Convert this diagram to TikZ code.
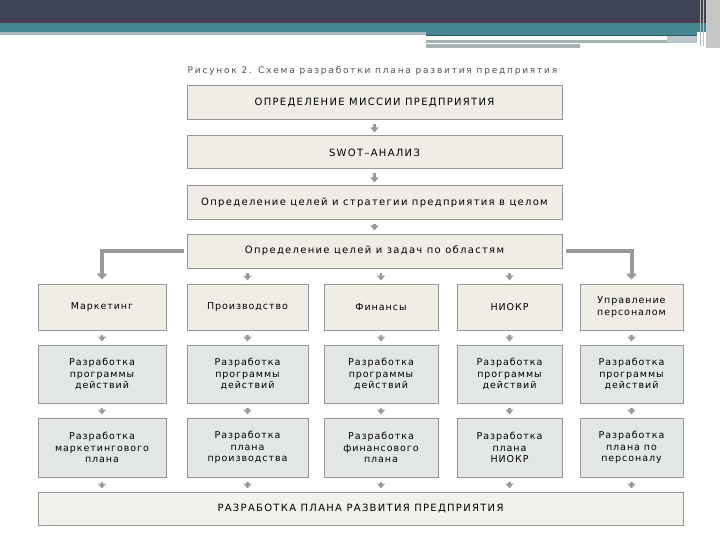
\documentclass[tikz,border=0pt]{standalone}
\usepackage{fontspec}
\setmainfont{DejaVu Sans}
\newfontfamily\fontA{DejaVu Sans}[LetterSpace=13]
\newfontfamily\fontB{DejaVu Sans}[LetterSpace=10]
\newfontfamily\fontC{DejaVu Sans}[LetterSpace=20]
\usetikzlibrary{arrows.meta}
\definecolor{hdark}{HTML}{3F4557}
\definecolor{hpurp}{HTML}{483F55}
\definecolor{hteal}{HTML}{458590}
\definecolor{hlight}{HTML}{A8B8C0}
\definecolor{hgray}{HTML}{A6B2B2}
\definecolor{beige}{HTML}{EFEDE6}
\definecolor{greenish}{HTML}{E3E7E3}
\definecolor{bottomfill}{HTML}{F2F0EA}
\definecolor{bordergray}{HTML}{969696}
\definecolor{arrgray}{HTML}{9A9A9A}
\definecolor{txt}{HTML}{000000}
\definecolor{captxt}{HTML}{505050}
\begin{document}
\begin{tikzpicture}[x=1pt,y=-1pt,
  box/.style={draw=bordergray, line width=1pt, fill=beige, inner sep=0pt, align=center,
    text=txt, font=\fontA\fontsize{10}{12}\selectfont},
  rbox/.style={box, font=\fontB\fontsize{9.5}{11.7}\selectfont},
  gbox/.style={rbox, fill=greenish},
  arr/.style={draw=arrgray, line width=2.5pt, -{Triangle[width=8pt,length=5pt]}, shorten <=4pt, shorten >=3pt},
  elbow/.style={draw=arrgray, line width=4pt, -{Triangle[width=11pt,length=6pt]}, shorten <=3pt, shorten >=4pt}]
\useasboundingbox (0,0) rectangle (720,540);
\fill[white] (0,0) rectangle (720,540);
% header
\fill[hdark] (0,0) rectangle (720,18);
\fill[hpurp] (0,18) rectangle (720,23);
\fill[hteal] (0,23) rectangle (720,32);
\fill[hlight] (0,32) rectangle (426,35);
\fill[hteal] (426,32) rectangle (697,35);
\fill[hteal!70!black] (426,35) rectangle (697,36);
\fill[hgray] (426,40) rectangle (667,43);
\fill[hgray] (426,44) rectangle (580,48);
\fill[hlight!80!white] (667,36) rectangle (697,43);
\fill[gray!45] (706,0) rectangle (720,48);
\draw[gray!60, line width=1pt] (700,0) -- (700,46);
\draw[gray!50, line width=1pt] (703,0) -- (703,46);
% caption
\node[text=captxt, font=\fontC\fontsize{9}{10}\selectfont, inner sep=0pt] (cap) at (372.5,71) {Рисунок 2. Схема разработки плана развития предприятия};
% main chain
\node[box, minimum width=375pt, minimum height=34pt] (b1) at (374.5,103) {ОПРЕДЕЛЕНИЕ МИССИИ ПРЕДПРИЯТИЯ};
\node[box, minimum width=375pt, minimum height=33pt] (b2) at (374.5,152.5) {SWOT–АНАЛИЗ};
\node[box, minimum width=375pt, minimum height=34pt] (b3) at (374.5,203) {Определение целей и стратегии предприятия в целом};
\node[box, minimum width=375pt, minimum height=34pt] (b4) at (374.5,251) {Определение целей и задач по областям};
% row 1
\node[rbox, minimum width=128pt, minimum height=46pt] (a1) at (102,307) {Маркетинг};
\node[rbox, minimum width=121pt, minimum height=46pt] (a2) at (247.5,307) {Производство};
\node[rbox, minimum width=114pt, minimum height=46pt] (a3) at (381,307) {Финансы};
\node[rbox, minimum width=105pt, minimum height=46pt] (a4) at (509.5,307) {НИОКР};
\node[rbox, minimum width=103pt, minimum height=46pt] (a5) at (631.5,307) {Управление\\персоналом};
% row 2
\node[gbox, minimum width=128pt, minimum height=58pt] (p1) at (102,374) {Разработка\\программы\\действий};
\node[gbox, minimum width=121pt, minimum height=58pt] (p2) at (247.5,374) {Разработка\\программы\\действий};
\node[gbox, minimum width=114pt, minimum height=58pt] (p3) at (381,374) {Разработка\\программы\\действий};
\node[gbox, minimum width=105pt, minimum height=58pt] (p4) at (509.5,374) {Разработка\\программы\\действий};
\node[gbox, minimum width=103pt, minimum height=58pt] (p5) at (631.5,374) {Разработка\\программы\\действий};
% row 3
\node[gbox, minimum width=128pt, minimum height=59pt] (q1) at (102,447.5) {Разработка\\маркетингового\\плана};
\node[gbox, minimum width=121pt, minimum height=59pt] (q2) at (247.5,447.5) {Разработка\\плана\\производства};
\node[gbox, minimum width=114pt, minimum height=59pt] (q3) at (381,447.5) {Разработка\\финансового\\плана};
\node[gbox, minimum width=105pt, minimum height=59pt] (q4) at (509.5,447.5) {Разработка\\плана\\НИОКР};
\node[gbox, minimum width=103pt, minimum height=59pt] (q5) at (631.5,447.5) {Разработка\\плана по\\персоналу};
% bottom
\node[box, fill=bottomfill, minimum width=645pt, minimum height=33pt] (bb) at (360.5,508.5) {РАЗРАБОТКА ПЛАНА РАЗВИТИЯ ПРЕДПРИЯТИЯ};
% arrows
\draw[arr] (b1) -- (b2);
\draw[arr] (b2) -- (b3);
\draw[arr] (b3) -- (b4);
\draw[arr] (a2.north |- b4.south) -- (a2.north);
\draw[arr] (a3.north |- b4.south) -- (a3.north);
\draw[arr] (a4.north |- b4.south) -- (a4.north);
\draw[elbow] (b4.west) -| (a1.north);
\draw[elbow] (b4.east) -| (a5.north);
\foreach \i in {1,...,5}{
  \draw[arr] (a\i) -- (p\i);
  \draw[arr] (p\i) -- (q\i);
  \draw[arr] (q\i.south) -- (q\i.south |- bb.north);
}
\end{tikzpicture}
\end{document}
